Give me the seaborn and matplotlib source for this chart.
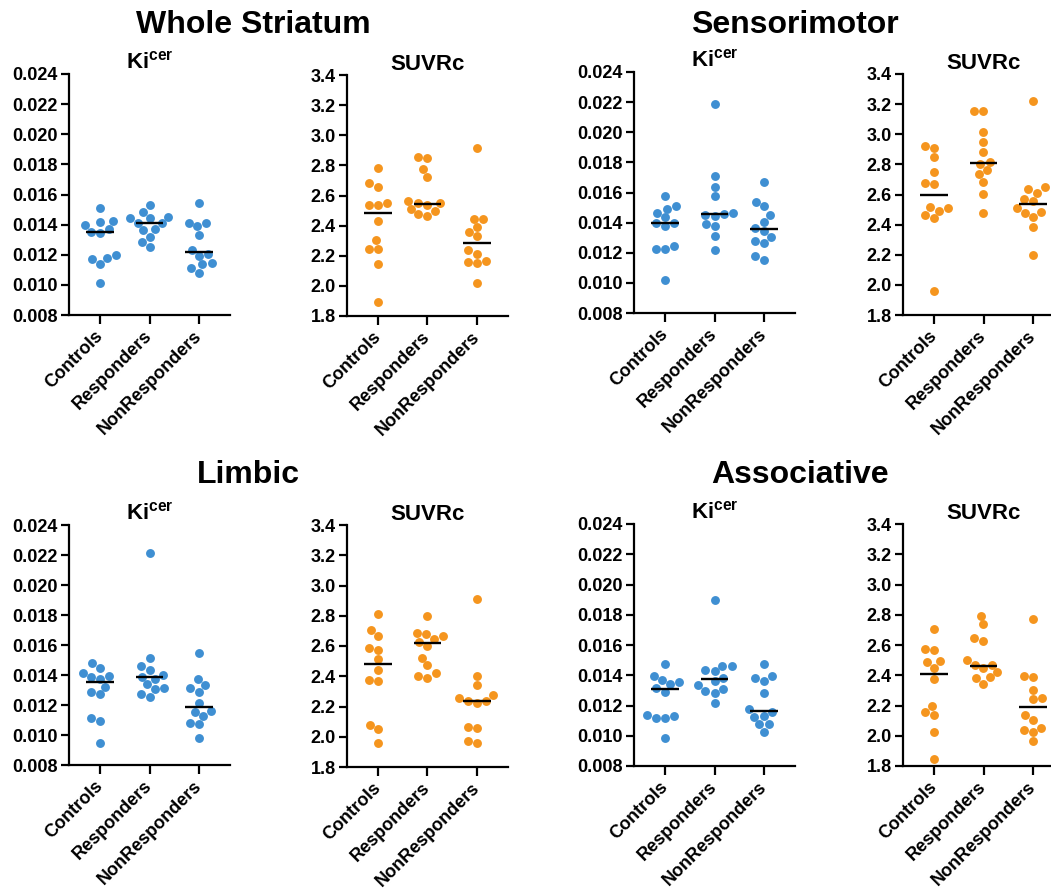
import numpy as np
import pandas as pd
import matplotlib
matplotlib.use("Agg")
import matplotlib.pyplot as plt
from matplotlib.ticker import FormatStrFormatter
import seaborn as sns

groups = ["Controls", "Responders", "NonResponders"]
sections = ["Whole Striatum", "Sensorimotor", "Limbic", "Associative"]

# Whole Striatum
ws_ki_ctrl = [0.01508, 0.01422, 0.01415, 0.01398, 0.01369, 0.01353, 0.01347, 0.01201, 0.01181, 0.01174, 0.01141, 0.01010]
ws_ki_resp = [0.01532, 0.01482, 0.01453, 0.01442, 0.01442, 0.01412, 0.01408, 0.01369, 0.01365, 0.01320, 0.01283, 0.01249]
ws_ki_nonr = [0.01541, 0.01413, 0.01413, 0.01391, 0.01333, 0.01232, 0.01205, 0.01192, 0.01147, 0.01136, 0.01114, 0.01081]
ws_ki_med = [0.0135, 0.0141, 0.0122]
ws_suv_ctrl = [2.78, 2.68, 2.658, 2.547, 2.540, 2.540, 2.432, 2.303, 2.245, 2.245, 2.143, 1.893]
ws_suv_resp = [2.857, 2.846, 2.777, 2.724, 2.562, 2.547, 2.547, 2.536, 2.511, 2.498, 2.474, 2.465]
ws_suv_nonr = [2.917, 2.447, 2.447, 2.392, 2.357, 2.330, 2.237, 2.214, 2.166, 2.157, 2.152, 2.022]
ws_suv_med = [2.487, 2.545, 2.285]

# Sensorimotor
sm_ki_ctrl = [0.01575, 0.01511, 0.01493, 0.01466, 0.01435, 0.01395, 0.01395, 0.01375, 0.01247, 0.01227, 0.01227, 0.01021]
sm_ki_resp = [0.0219, 0.0171, 0.01639, 0.01577, 0.01462, 0.01460, 0.01453, 0.01446, 0.01393, 0.01375, 0.01309, 0.01221]
sm_ki_nonr = [0.01670, 0.01537, 0.01508, 0.01448, 0.01404, 0.01367, 0.01345, 0.01305, 0.01276, 0.01267, 0.01178, 0.01154]
sm_ki_med = [0.01395, 0.01457, 0.01356]
sm_suv_ctrl = [2.922, 2.911, 2.851, 2.747, 2.679, 2.670, 2.519, 2.508, 2.493, 2.462, 2.442, 1.962]
sm_suv_resp = [3.157, 3.157, 3.015, 2.949, 2.884, 2.818, 2.802, 2.763, 2.736, 2.685, 2.603, 2.475]
sm_suv_nonr = [3.223, 2.648, 2.634, 2.612, 2.568, 2.559, 2.510, 2.484, 2.479, 2.453, 2.387, 2.196]
sm_suv_med = [2.594, 2.807, 2.535]

# Limbic
lb_ki_ctrl = [0.01478, 0.01444, 0.01415, 0.01395, 0.01384, 0.01373, 0.01322, 0.01289, 0.01273, 0.01111, 0.01093, 0.00949]
lb_ki_resp = [0.02211, 0.01511, 0.01460, 0.01433, 0.01400, 0.01389, 0.01373, 0.01340, 0.01311, 0.01305, 0.01273, 0.01255]
lb_ki_nonr = [0.01549, 0.01373, 0.01333, 0.01311, 0.01289, 0.01211, 0.01160, 0.01155, 0.01127, 0.01082, 0.01073, 0.00978]
lb_ki_med = [0.01351, 0.01384, 0.01185]
lb_suv_ctrl = [2.810, 2.706, 2.668, 2.585, 2.573, 2.514, 2.441, 2.375, 2.369, 2.078, 2.051, 1.961]
lb_suv_resp = [2.798, 2.688, 2.677, 2.668, 2.644, 2.628, 2.602, 2.523, 2.474, 2.419, 2.402, 2.390]
lb_suv_nonr = [2.911, 2.402, 2.342, 2.276, 2.258, 2.238, 2.238, 2.225, 2.064, 2.060, 1.974, 1.961]
lb_suv_med = [2.481, 2.618, 2.238]

# Associative
as_ki_ctrl = [0.01473, 0.01395, 0.01369, 0.01354, 0.01340, 0.01314, 0.01292, 0.01137, 0.01133, 0.01120, 0.01120, 0.00983]
as_ki_resp = [0.01898, 0.01463, 0.01461, 0.01435, 0.01430, 0.01384, 0.01364, 0.01336, 0.01309, 0.01298, 0.01285, 0.01215]
as_ki_nonr = [0.01475, 0.01395, 0.01384, 0.01364, 0.01281, 0.01175, 0.01159, 0.01131, 0.01126, 0.01078, 0.01078, 0.01027]
as_ki_med = [0.01307, 0.01373, 0.01166]
as_suv_ctrl = [2.709, 2.572, 2.566, 2.493, 2.488, 2.449, 2.374, 2.197, 2.157, 2.140, 2.025, 1.848]
as_suv_resp = [2.793, 2.736, 2.643, 2.628, 2.504, 2.471, 2.469, 2.449, 2.422, 2.389, 2.383, 2.345]
as_suv_nonr = [2.775, 2.396, 2.389, 2.301, 2.252, 2.241, 2.135, 2.107, 2.052, 2.041, 2.025, 1.963]
as_suv_med = [2.411, 2.462, 2.191]

BLUE = "#3F8FD2"
ORANGE = "#F5951E"

sns.set_style("ticks")
plt.rcParams["font.family"] = ["Liberation Sans", "DejaVu Sans"]
plt.rcParams["font.weight"] = "bold"
plt.rcParams["text.color"] = "black"
plt.rcParams["axes.labelcolor"] = "black"
plt.rcParams["xtick.color"] = "black"
plt.rcParams["ytick.color"] = "black"
plt.rcParams["mathtext.fontset"] = "custom"
plt.rcParams["mathtext.rm"] = "Liberation Sans:bold"
plt.rcParams["mathtext.bf"] = "Liberation Sans:bold"
plt.rcParams["mathtext.it"] = "Liberation Sans:bold"

W, H = 1051, 889
fig = plt.figure(figsize=(W / 100, H / 100), dpi=100)


def px_axes(left, top, bottom, width=161):
    return fig.add_axes([left / W, 1 - bottom / H, width / W, (bottom - top) / H])


def draw(ax, lists, med, kind):
    df = pd.DataFrame({
        "group": np.repeat(groups, [len(v) for v in lists]),
        "value": np.concatenate(lists),
    })
    color = BLUE if kind == "ki" else ORANGE
    sns.swarmplot(data=df, x="group", y="value", order=groups, color=color,
                  size=6.4, linewidth=0, ax=ax, zorder=2)
    pos = np.arange(len(groups))
    ax.hlines(med, pos - 0.28, pos + 0.28, color="black", lw=1.7, zorder=3)
    ax.set_xlim(-0.626, 2.626)
    if kind == "ki":
        ax.set_ylim(0.008, 0.024)
        ax.set_yticks(np.round(np.arange(0.008, 0.02401, 0.002), 3))
        ax.yaxis.set_major_formatter(FormatStrFormatter("%.3f"))
        title = r"Ki$^{\mathrm{cer}}$"
    else:
        ax.set_ylim(1.8, 3.4)
        ax.set_yticks(np.round(np.arange(1.8, 3.401, 0.2), 1))
        ax.yaxis.set_major_formatter(FormatStrFormatter("%.1f"))
        title = "SUVRc"
    ax.set_title(title, fontsize=16, fontweight="bold", color="black", pad=-1)
    ax.set_xlabel("")
    ax.set_ylabel("")
    sns.despine(ax=ax)
    for s in ("left", "bottom"):
        ax.spines[s].set_linewidth(1.6)
        ax.spines[s].set_color("black")
    ax.tick_params(axis="y", length=6, width=1.6, pad=2, labelsize=13, colors="black")
    ax.tick_params(axis="x", length=6.5, width=1.6, pad=7, labelsize=13, colors="black")
    for lab in ax.get_yticklabels():
        lab.set_fontweight("bold")
    for lab in ax.get_xticklabels():
        lab.set_fontweight("bold")
        lab.set_rotation(45)
        lab.set_ha("right")
        lab.set_va("center")
        lab.set_rotation_mode("anchor")


layout = [
    ((ws_ki_ctrl, ws_ki_resp, ws_ki_nonr), ws_ki_med, "ki", (69, 74, 315)),
    ((ws_suv_ctrl, ws_suv_resp, ws_suv_nonr), ws_suv_med, "suv", (347, 75, 316)),
    ((sm_ki_ctrl, sm_ki_resp, sm_ki_nonr), sm_ki_med, "ki", (634, 72, 313)),
    ((sm_suv_ctrl, sm_suv_resp, sm_suv_nonr), sm_suv_med, "suv", (903, 74, 315)),
    ((lb_ki_ctrl, lb_ki_resp, lb_ki_nonr), lb_ki_med, "ki", (69, 525, 765)),
    ((lb_suv_ctrl, lb_suv_resp, lb_suv_nonr), lb_suv_med, "suv", (347, 525, 767)),
    ((as_ki_ctrl, as_ki_resp, as_ki_nonr), as_ki_med, "ki", (634, 524, 766)),
    ((as_suv_ctrl, as_suv_resp, as_suv_nonr), as_suv_med, "suv", (903, 524, 766)),
]

for lists, med, kind, (l, t, b) in layout:
    ax = px_axes(l, t, b)
    draw(ax, lists, med, kind)

section_pos = [(253, 33), (795, 33), (248, 483), (800, 483)]
for name, (x, y) in zip(sections, section_pos):
    fig.text(x / W, 1 - y / H, name, ha="center", va="baseline",
             fontsize=23, fontweight="bold", color="black")

fig.savefig("out.png", dpi=100)
